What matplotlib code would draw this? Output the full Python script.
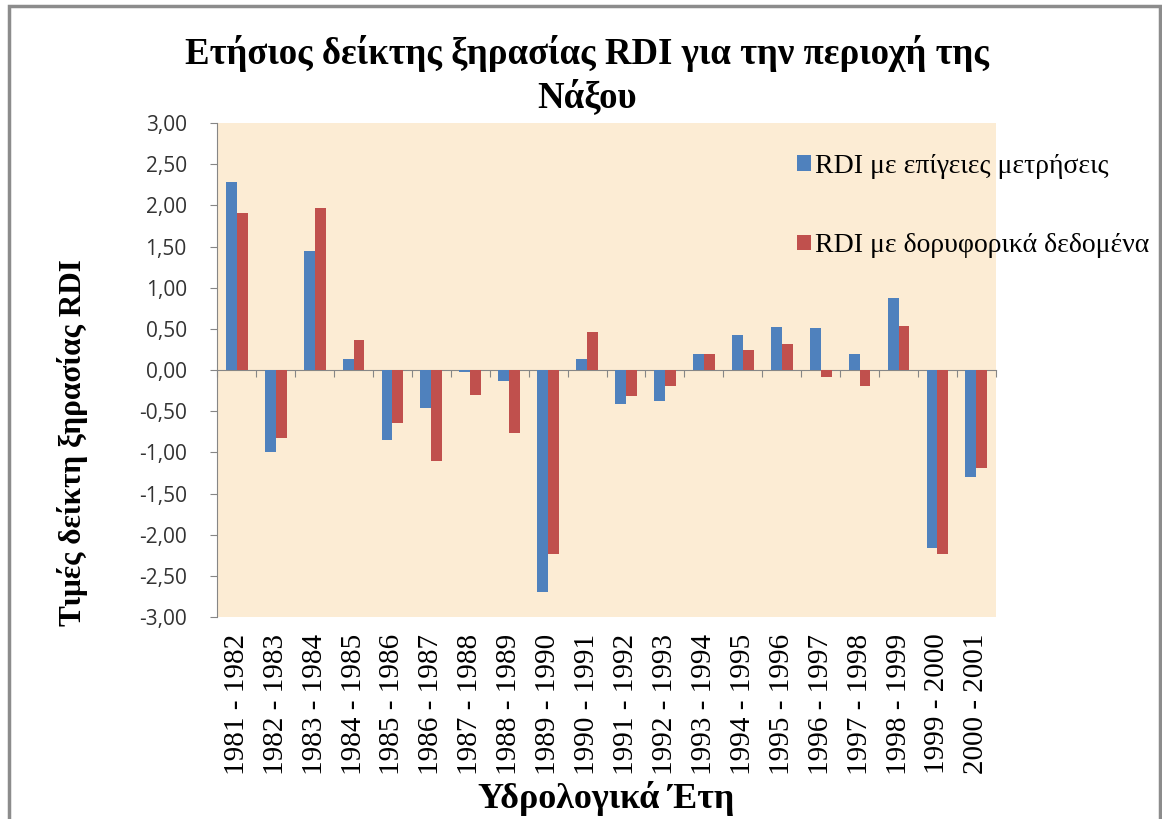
import matplotlib.pyplot as plt
import numpy as np
from matplotlib.patches import Rectangle

years = ["1981 - 1982", "1982 - 1983", "1983 - 1984", "1984 - 1985", "1985 - 1986",
         "1986 - 1987", "1987 - 1988", "1988 - 1989", "1989 - 1990", "1990 - 1991",
         "1991 - 1992", "1992 - 1993", "1993 - 1994", "1994 - 1995", "1995 - 1996",
         "1996 - 1997", "1997 - 1998", "1998 - 1999", "1999 - 2000", "2000 - 2001"]
rdi_ground = [2.28, -1.00, 1.44, 0.13, -0.85, -0.46, -0.02, -0.13, -2.70, 0.13,
              -0.41, -0.38, 0.19, 0.42, 0.52, 0.51, 0.19, 0.88, -2.16, -1.30]
rdi_sat = [1.91, -0.82, 1.97, 0.37, -0.64, -1.10, -0.30, -0.77, -2.23, 0.46,
           -0.31, -0.20, 0.19, 0.24, 0.32, -0.08, -0.20, 0.54, -2.23, -1.19]
yticks = np.arange(-3, 3.01, 0.5)

serif = "Liberation Serif"
fig = plt.figure(figsize=(11.62, 8.19), dpi=100)
ax = fig.add_axes([0.187, 0.2466, 0.67, 0.6032])
ax.set_facecolor("#FCECD4")

x = np.arange(len(years))
w = 0.28
ax.bar(x - w / 2, rdi_ground, w, color="#4F81BD", label="RDI με επίγειες μετρήσεις")
ax.bar(x + w / 2, rdi_sat, w, color="#C0504D", label="RDI με δορυφορικά δεδομένα")

ax.set_xlim(-0.5, len(years) - 0.5)
ax.set_ylim(-3, 3)
ax.set_yticks(yticks)
ax.set_yticklabels([f"{v:.2f}".replace(".", ",") for v in yticks],
                   family="Open Sans", fontsize=15, color="#333333")
ax.tick_params(axis="y", direction="out", length=5, color="#868686", pad=17)

ax.set_xticks(x)
ax.set_xticklabels(years, rotation=90, family=serif, fontsize=21)
ax.tick_params(axis="x", length=0, pad=12)

for s in ["top", "right", "bottom"]:
    ax.spines[s].set_visible(False)
ax.spines["left"].set_color("#868686")

# zero line with category separators
zero = ax.secondary_xaxis(0.5)
zero.xaxis.set_ticks_position("bottom")
zero.set_xticks(np.arange(-0.5, len(years), 1.0))
zero.set_xticklabels([])
zero.tick_params(axis="x", direction="out", length=5, color="#868686",
                 labelbottom=False, labeltop=False)
for s in zero.spines.values():
    s.set_color("#868686")

ax.set_ylabel("Τιμές δείκτη ξηρασίας RDI", family=serif, fontweight="bold", fontsize=22.5)
ax.yaxis.set_label_coords(-0.166, 0.354)
ax.set_xlabel("Υδρολογικά Έτη", family=serif, fontweight="bold", fontsize=26, labelpad=4)

fig.text(0.505, 0.908, "Ετήσιος δείκτης ξηρασίας RDI για την περιοχή της\nΝάξου",
         ha="center", va="center", family=serif, fontweight="bold", fontsize=26.5,
         linespacing=1.25)

leg = ax.legend(loc="upper left", bbox_to_anchor=(0.745, 0.937), frameon=False,
                prop={"family": serif, "size": 20}, handlelength=0.5, handleheight=0.5,
                handletextpad=0.15, labelspacing=1.95, borderpad=0, borderaxespad=0)

fig.patches.append(Rectangle((9 / 1162, -0.01), 1151 / 1162, 1.0 - 6 / 819 + 0.01,
                             transform=fig.transFigure, fill=False,
                             edgecolor="#8C8C8C", linewidth=2.5))

fig.savefig("out.png", dpi=100, facecolor="white")
